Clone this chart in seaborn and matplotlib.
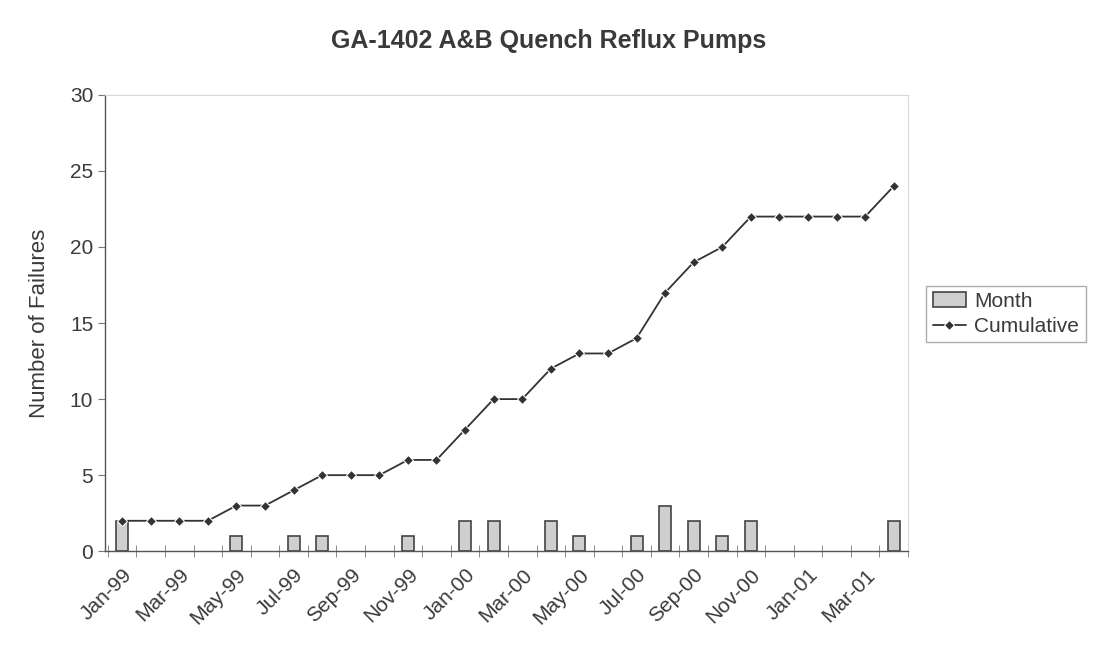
import numpy as np
import pandas as pd
import matplotlib
matplotlib.use('Agg')
import matplotlib.pyplot as plt
import seaborn as sns

months = ['Jan-99', 'Feb-99', 'Mar-99', 'Apr-99', 'May-99', 'Jun-99', 'Jul-99',
          'Aug-99', 'Sep-99', 'Oct-99', 'Nov-99', 'Dec-99', 'Jan-00', 'Feb-00',
          'Mar-00', 'Apr-00', 'May-00', 'Jun-00', 'Jul-00', 'Aug-00', 'Sep-00',
          'Oct-00', 'Nov-00', 'Dec-00', 'Jan-01', 'Feb-01', 'Mar-01', 'Apr-01']
monthly = [2, 0, 0, 0, 1, 0, 1, 1, 0, 0, 1, 0, 2, 2, 0, 2, 1, 0, 1, 3, 2, 1, 2, 0, 0, 0, 0, 2]
cumulative = [2, 2, 2, 2, 3, 3, 4, 5, 5, 5, 6, 6, 8, 10, 10, 12, 13, 13, 14, 17, 19, 20,
              22, 22, 22, 22, 22, 24]

df = pd.DataFrame({'month': months, 'pos': np.arange(len(months)),
                   'Month': monthly, 'Cumulative': cumulative})
bars = df[df['Month'] > 0]

sns.set_style('white')
plt.rcParams['font.family'] = ['Liberation Sans', 'DejaVu Sans']
txt = '#3a3a3a'

fig = plt.figure(figsize=(10.98, 6.5), dpi=100)
ax = fig.add_axes([0.0956, 0.152, 0.7314, 0.702])

sns.barplot(data=bars, x='pos', y='Month', color='#cfcfcf', edgecolor='#444444',
            linewidth=1.2, width=0.42, ax=ax, label='Month', native_scale=True)
sns.lineplot(data=df, x='pos', y='Cumulative', color='#333333', marker='D',
             markersize=5, linewidth=1.3, ax=ax, label='Cumulative')

ax.set_xlim(-0.6, 27.5)
ax.set_ylim(0, 30)
ax.set_yticks(range(0, 31, 5))
ax.set_xticks(np.arange(0, 28, 2))
ax.set_xticklabels(months[::2], rotation=45, ha='right', rotation_mode='anchor')
ax.set_xticks(np.arange(-0.5, 28, 1), minor=True)
ax.tick_params(axis='x', which='major', length=0, labelsize=15, labelcolor=txt, pad=10,
               bottom=True)
ax.tick_params(axis='x', which='minor', length=8, direction='inout', color='#777777',
               bottom=True)
ax.tick_params(axis='y', length=5, direction='out', color='#777777', labelsize=15,
               labelcolor=txt, left=True)
ax.set_xlabel('')
ax.set_ylabel('Number of Failures', fontsize=16, color=txt, labelpad=14)

for side in ['left', 'bottom']:
    ax.spines[side].set_color('#555555')
    ax.spines[side].set_linewidth(1.0)
for side in ['top', 'right']:
    ax.spines[side].set_color('#d8d8d8')
    ax.spines[side].set_linewidth(0.8)

fig.suptitle('GA-1402 A&B Quench Reflux Pumps', fontsize=18, color=txt,
             fontweight='bold', y=0.955)

handles, labels = ax.get_legend_handles_labels()
order = [labels.index('Month'), labels.index('Cumulative')]
leg = ax.legend([handles[i] for i in order], [labels[i] for i in order],
                loc='center left', bbox_to_anchor=(1.01, 0.52), fontsize=15,
                frameon=True, fancybox=False, edgecolor='#999999',
                handlelength=1.6, handletextpad=0.4, borderpad=0.3, labelspacing=0.3)
for t in leg.get_texts():
    t.set_color(txt)

fig.savefig('out.png', dpi=100)
